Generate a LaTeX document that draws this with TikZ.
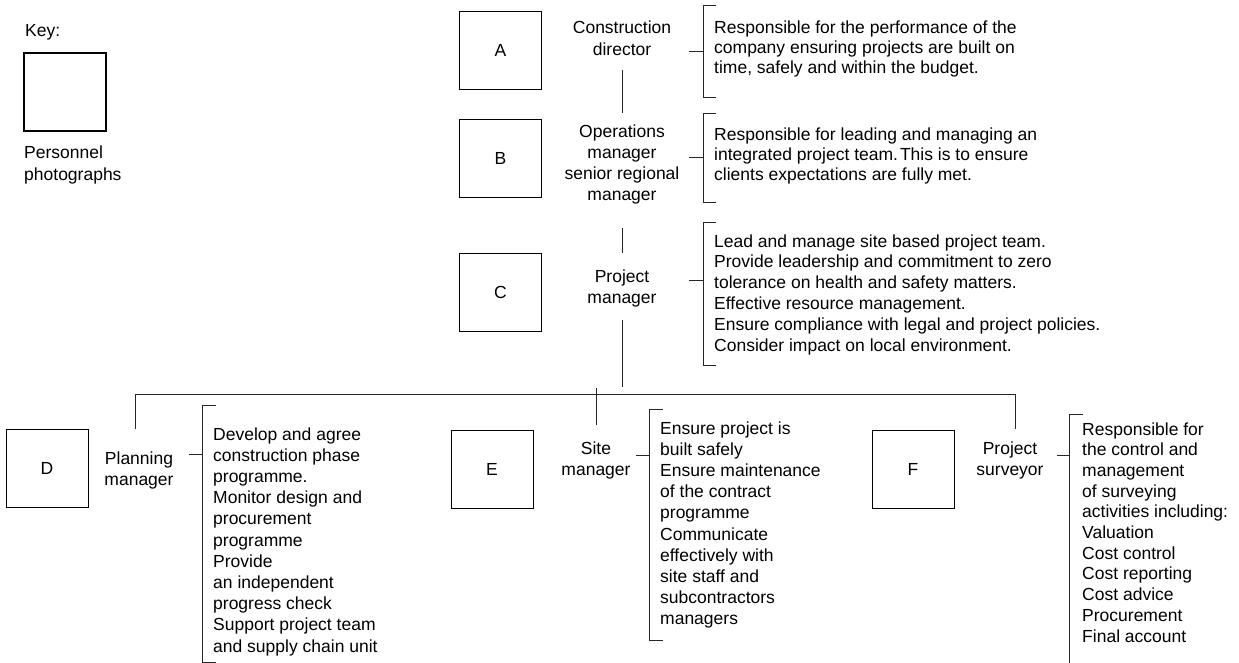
\documentclass[tikz,border=0pt]{standalone}
\usepackage{fontspec}
\setmainfont{Liberation Sans}
\frenchspacing
\begin{document}
\begin{tikzpicture}[x=1pt,y=-1pt,
  photo/.style={draw=black, line width=0.95pt, minimum width=82pt, minimum height=78pt,
                inner sep=0pt, font=\fontsize{17.5}{21}\selectfont},
  role/.style={anchor=north, inner sep=0pt, align=center},
  duty/.style={anchor=north west, inner sep=0pt, align=left},
  link/.style={draw=black!85, line width=1pt},
]
\path[use as bounding box] (0,0) rectangle (1239,663);

% ---- key ----
\node[anchor=base west, inner sep=0pt, font=\fontsize{17.5}{21}\selectfont] (keylbl) at (25,37) {Key:};
\node[photo, line width=1.8pt] (keybox) at (65,92) {};
\node[duty, font=\fontsize{17.5}{22}\selectfont] (keytxt) at (24,145.2) {Personnel\\photographs};

% ---- personnel photographs ----
\node[photo] (A) at (500.5,50.5) {A};
\node[photo] (B) at (500.5,158.5) {B};
\node[photo] (C) at (500.5,292) {C};
\node[photo] (D) at (47,468.5) {D};
\node[photo] (E) at (492,469) {E};
\node[photo] (F) at (913,469) {F};

% ---- roles ----
\node[role, font=\fontsize{17.5}{21.5}\selectfont] (cd) at (622,20.7) {Construction\\director};
\node[role, font=\fontsize{17.5}{21}\selectfont] (om) at (622,124.2) {Operations\\manager\\senior regional\\manager};
\node[role, font=\fontsize{17.5}{21.5}\selectfont] (pm) at (622,269.2) {Project\\manager};
\node[role, font=\fontsize{17.5}{21.5}\selectfont] (plm) at (139,451.2) {Planning\\manager};
\node[role, font=\fontsize{17.5}{21.5}\selectfont] (sm) at (596,441.2) {Site\\manager};
\node[role, font=\fontsize{17.5}{21.5}\selectfont] (ps) at (1010,441.2) {Project\\surveyor};

% ---- duties ----
\node[duty, font=\fontsize{17.5}{20}\selectfont] (dA) at (714,20.2)
  {Responsible for the performance of the\\company ensuring projects are built on\\time, safely and within the budget.};
\node[duty, font=\fontsize{17.5}{20}\selectfont] (dB) at (714,127.2)
  {Responsible for leading and managing an\\integrated project team.\hspace{2pt}This is to ensure\\clients expectations are fully met.};
\node[duty, font=\fontsize{17.5}{20.8}\selectfont] (dC) at (714,234.2)
  {Lead and manage site based project team.\\Provide leadership and commitment to zero\\tolerance on health and safety matters.\\Effective resource management.\\Ensure compliance with legal and project policies.\\Consider impact on local environment.};
\node[duty, font=\fontsize{17.5}{21.2}\selectfont] (dD) at (213,427.2)
  {Develop and agree\\construction phase\\programme.\\Monitor design and\\procurement\\programme\\Provide\\an independent\\progress check\\Support project team\\and supply chain unit};
\node[duty, font=\fontsize{17.5}{21.2}\selectfont] (dE) at (660,421.2)
  {Ensure project is\\built safely\\Ensure maintenance\\of the contract\\programme\\Communicate\\effectively with\\site staff and\\subcontractors\\managers};
\node[duty, font=\fontsize{17.5}{20.7}\selectfont] (dF) at (1082,422.2)
  {Responsible for\\the control and\\management\\of surveying\\activities including:\\Valuation\\Cost control\\Cost reporting\\Cost advice\\Procurement\\Final account};

% ---- reporting lines ----
\coordinate (cd-dn) at (622,70);
\coordinate (om-up) at (622,113);
\coordinate (om-dn) at (622,228);
\coordinate (pm-up) at (622,253);
\coordinate (pm-dn) at (622,320);
\coordinate (bus-in) at (622,387);
\coordinate (plm-up) at (135,429);
\coordinate (busL) at (135,394.5);
\coordinate (busR) at (1015,394.5);
\coordinate (ps-up) at (1015,429);
\coordinate (sm-top) at (596,388);
\coordinate (sm-up) at (596,425);

\draw[link] (cd-dn) -- (om-up);
\draw[link] (om-dn) -- (pm-up);
\draw[link] (pm-dn) -- (bus-in);
\draw[link] (plm-up) -- (busL) -- (busR) -- (ps-up);
\draw[link] (sm-top) -- (sm-up);

% ---- brackets round the duties ----
\coordinate (tkA) at (689,52);   \coordinate (brA) at (703,52);
\coordinate (tkB) at (689,158);  \coordinate (brB) at (703,158);
\coordinate (tkC) at (689,280);  \coordinate (brC) at (703,280);
\coordinate (tkD) at (189,454);  \coordinate (brD) at (202,454);
\coordinate (tkE) at (636,455);  \coordinate (brE) at (649,455);
\coordinate (tkF) at (1057,455); \coordinate (brF) at (1069,455);

\draw[link] (tkA) -- (brA);
\draw[link] (brA) ++(13,-46) -- ++(-13,0) -- ++(0,92) -- ++(13,0);
\draw[link] (tkB) -- (brB);
\draw[link] (brB) ++(13,-44) -- ++(-13,0) -- ++(0,89) -- ++(13,0);
\draw[link] (tkC) -- (brC);
\draw[link] (brC) ++(13,-58) -- ++(-13,0) -- ++(0,143) -- ++(13,0);
\draw[link] (tkD) -- (brD);
\draw[link] (brD) ++(14,-49) -- ++(-14,0) -- ++(0,257) -- ++(14,0);
\draw[link] (tkE) -- (brE);
\draw[link] (brE) ++(14,-46) -- ++(-14,0) -- ++(0,231) -- ++(14,0);
\draw[link] (tkF) -- (brF);
\draw[link] (brF) ++(14,-41) -- ++(-14,0) -- ++(0,249);
\end{tikzpicture}
\end{document}
